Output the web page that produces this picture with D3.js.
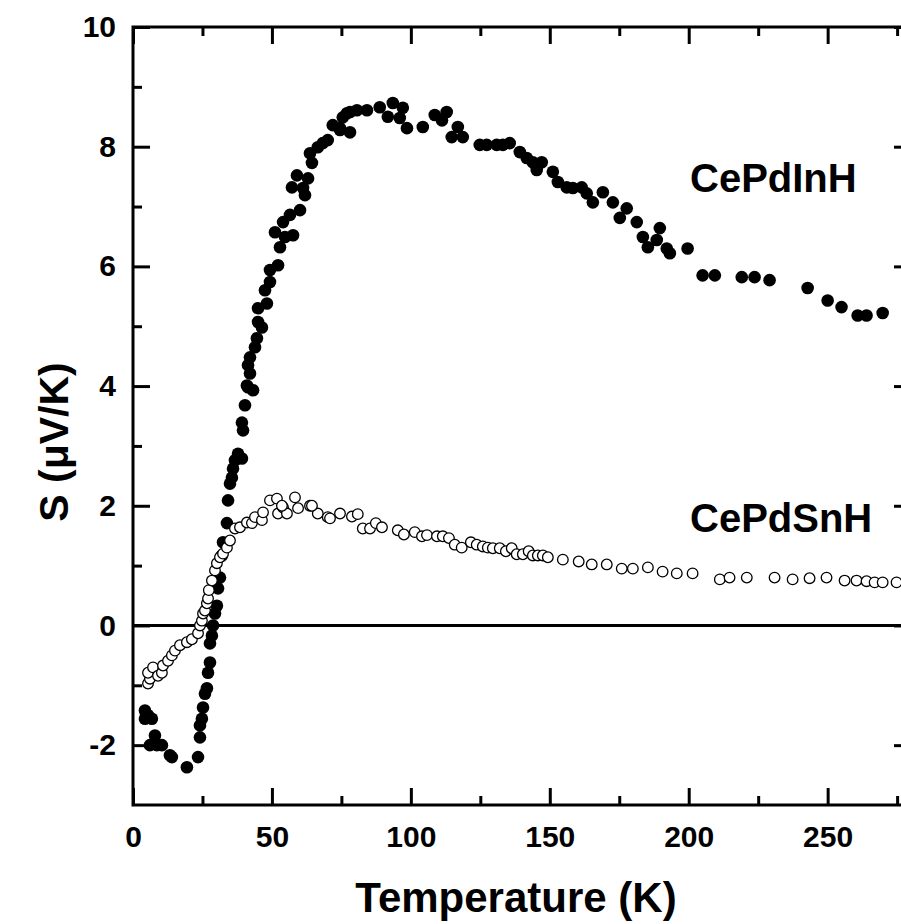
<!DOCTYPE html>
<html>
<head>
<meta charset="utf-8">
<script src="https://cdn.jsdelivr.net/npm/d3@7"></script>
<style>
  body { margin: 0; background: #fff; overflow: hidden; }
  text { font-family: "Liberation Sans", Arial, sans-serif; font-weight: bold; }
</style>
</head>
<body>
<script>
// CePdInH (filled circles): temperature (K) and thermopower (µV/K)
var inT = [4.3, 4.3, 5.4, 6.8, 7.9, 6.1, 8.6, 10.4, 13.3, 14, 19.4, 23.4, 24.1, 24.1, 24.8, 25.2, 25.9, 26.6,
  27.0, 27.7, 27.7, 28.4, 28.8, 29.5, 30.2, 30.6, 31.3, 32.0, 32.4, 33.8, 34.2, 34.9, 35.6, 36.0, 36.7, 37.8,
  39.2, 39.6, 39.2, 40.3, 41.0, 43.2, 41.4, 42.1, 41.4, 42.1, 43.9, 44.6, 45.0, 46.4, 45.0, 48.2, 47.5, 49.3,
  49.3, 52.2, 51.1, 52.9, 54.7, 57.6, 54.0, 56.5, 60.1, 57.2, 59.0, 61.2, 61.9, 63.0, 64.4, 63.7, 66.5, 68.3,
  70.1, 71.9, 74.5, 77.0, 80.6, 84.2, 88.8, 93.5, 97.1, 91.7, 98.6, 104.3, 75.5, 78.1, 96.0, 78.1, 74.5,
  108.6, 112.9, 111.2, 116.9, 114.7, 118.7, 124.8, 127.3, 130.9, 133.1, 135.6, 139.2, 141.7, 143.9, 147.1,
  145.3, 151.1, 152.9, 156.1, 158.3, 161.5, 163.3, 165.5, 169.1, 172.7, 177.7, 175.2, 181.3, 189.6, 183.5,
  185.3, 188.5, 192.1, 193.2, 199.6, 205.0, 209.4, 219.1, 223.7, 229.1, 242.8, 250.0, 255.0, 260.8, 264.0, 269.8];
var inS = [-1.42, -1.56, -1.5, -1.56, -1.84, -2.0, -2.0, -2.0, -2.17, -2.2, -2.37, -2.2, -1.87, -1.67, -1.56, -1.37, -1.14, -1.05,
  -0.79, -0.62, -0.30, -0.17, 0.0, 0.2, 0.33, 0.62, 0.80, 1.17, 1.39, 1.71, 2.09, 2.37, 2.47, 2.62, 2.76, 2.87,
  2.79, 3.26, 3.39, 3.68, 4.01, 3.93, 3.98, 4.21, 4.35, 4.48, 4.65, 4.80, 5.07, 4.98, 5.30, 5.38, 5.60, 5.74,
  5.94, 6.02, 6.57, 6.32, 6.49, 6.52, 6.74, 6.86, 6.94, 7.32, 7.52, 7.31, 7.19, 7.47, 7.73, 7.89, 7.99, 8.06,
  8.11, 8.36, 8.31, 8.56, 8.61, 8.61, 8.66, 8.73, 8.65, 8.50, 8.31, 8.33, 8.49, 8.58, 8.48, 8.24, 8.28,
  8.53, 8.58, 8.44, 8.33, 8.16, 8.16, 8.03, 8.03, 8.03, 8.03, 8.06, 7.91, 7.81, 7.74, 7.74,
  7.61, 7.58, 7.41, 7.32, 7.31, 7.32, 7.22, 7.07, 7.24, 7.07, 6.97, 6.81, 6.74, 6.64, 6.49,
  6.32, 6.44, 6.30, 6.22, 6.30, 5.85, 5.85, 5.82, 5.82, 5.77, 5.64, 5.43, 5.32, 5.18, 5.18, 5.22];

// CePdSnH (open circles)
var snT = [5.4, 6.1, 5.4, 7.2, 9.0, 10.4, 10.8, 12.6, 14.0, 15.1, 16.9, 19.4, 21.2, 23.4, 24.1, 24.8, 25.2, 25.9,
  26.6, 27.0, 27.3, 28.4, 29.5, 30.2, 31.3, 32.4, 33.8, 34.9, 36.7, 38.5, 41.0, 42.8, 43.9, 46.4, 46.8, 49.3,
  51.8, 52.2, 54.0, 55.4, 58.3, 59.4, 53.6, 63.7, 66.5, 70.1, 64.4, 70.9, 74.5, 78.8, 80.9, 82.7, 85.3, 87.4,
  89.6, 95.3, 97.5, 101.4, 104.0, 105.8, 109.4, 111.5, 113.7, 115.8, 118.3, 121.6, 123.7, 125.9, 127.7, 129.5,
  132.0, 134.2, 136.3, 138.1, 140.3, 142.4, 143.9, 145.7, 147.5, 149.3, 154.7, 160.4, 165.1, 170.5, 175.9,
  179.9, 185.3, 190.6, 195.7, 201.4, 211.2, 214.7, 220.9, 230.9, 237.4, 243.5, 249.6, 256.1, 260.4, 264.0,
  266.9, 269.8, 274.8];
var snS = [-0.97, -0.89, -0.79, -0.70, -0.84, -0.79, -0.67, -0.59, -0.50, -0.42, -0.33, -0.28, -0.23, -0.13, 0.0, 0.08, 0.2, 0.25,
  0.37, 0.45, 0.59, 0.75, 0.92, 1.04, 1.14, 1.20, 1.30, 1.42, 1.62, 1.64, 1.72, 1.71, 1.81, 1.76, 1.89, 2.09,
  2.12, 1.87, 1.97, 1.87, 2.14, 1.96, 2.0, 2.0, 1.87, 1.81, 2.0, 1.79, 1.87, 1.82, 1.86, 1.62, 1.62, 1.71,
  1.64, 1.59, 1.52, 1.56, 1.49, 1.51, 1.49, 1.49, 1.46, 1.35, 1.30, 1.39, 1.35, 1.32, 1.30, 1.29,
  1.29, 1.24, 1.29, 1.19, 1.19, 1.24, 1.17, 1.17, 1.17, 1.14, 1.10, 1.07, 1.02, 1.02, 0.95,
  0.95, 0.97, 0.90, 0.87, 0.87, 0.77, 0.80, 0.80, 0.80, 0.77, 0.79, 0.80, 0.75, 0.75, 0.74,
  0.72, 0.72, 0.72];

var xMajor = [0, 50, 100, 150, 200, 250];
var xMinor = [25, 75, 125, 175, 225, 275];
var yMajor = [-2, 0, 2, 4, 6, 8, 10];
var yMinor = [-1, 1, 3, 5, 7, 9];

var W = 901, H = 924;
var mLeft = 133, mTop = 27, mRight = 911, mBottom = 805;

var svg = d3.select("body").append("svg")
    .attr("width", W)
    .attr("height", H);

var x = d3.scaleLinear().domain([0, 280]).range([mLeft, mRight]);
var y = d3.scaleLinear().domain([-3, 10]).range([mBottom, mTop]);

// zero line
svg.append("line")
    .attr("x1", mLeft).attr("x2", mRight)
    .attr("y1", y(0)).attr("y2", y(0))
    .attr("stroke", "#000").attr("stroke-width", 3);

// ticks: all inward, on all four sides
function tickAxis(axis, tr, vals, size, labels) {
  var g = svg.append("g")
      .attr("transform", tr)
      .call(axis.tickValues(vals).tickSize(-size).tickPadding(size + 14)
        .tickFormat(labels ? function(d) { return String(d); } : ""));
  g.select(".domain").remove();
  g.selectAll("line").attr("stroke-width", 3);
  return g;
}

var bx = tickAxis(d3.axisBottom(x), "translate(0," + mBottom + ")", xMajor, 17, true);
tickAxis(d3.axisBottom(x), "translate(0," + mBottom + ")", xMinor, 9, false);
tickAxis(d3.axisTop(x), "translate(0," + mTop + ")", xMajor, 17, false);
tickAxis(d3.axisTop(x), "translate(0," + mTop + ")", xMinor, 9, false);
var ly = tickAxis(d3.axisLeft(y), "translate(" + mLeft + ",0)", yMajor, 17, true);
tickAxis(d3.axisLeft(y), "translate(" + mLeft + ",0)", yMinor, 9, false);
tickAxis(d3.axisRight(y), "translate(" + mRight + ",0)", yMajor, 17, false);
tickAxis(d3.axisRight(y), "translate(" + mRight + ",0)", yMinor, 9, false);

bx.selectAll("text")
    .attr("y", 21)
    .attr("dy", "0.71em")
    .style("font-size", "30px")
    .style("font-family", "'Liberation Sans', Arial, sans-serif")
    .style("font-weight", "bold")
    .attr("fill", "#000");
ly.selectAll("text")
    .attr("x", -17)
    .style("font-size", "30px")
    .style("font-family", "'Liberation Sans', Arial, sans-serif")
    .style("font-weight", "bold")
    .attr("fill", "#000");

// frame
svg.append("rect")
    .attr("x", mLeft).attr("y", mTop)
    .attr("width", mRight - mLeft).attr("height", mBottom - mTop)
    .attr("fill", "none")
    .attr("stroke", "#000")
    .attr("stroke-width", 3);

// data
var inData = inT.map(function(t, i) { return {t: t, s: inS[i]}; });
var snData = snT.map(function(t, i) { return {t: t, s: snS[i]}; });

svg.append("g").selectAll("circle")
    .data(inData)
    .enter().append("circle")
    .attr("cx", function(d) { return x(d.t); })
    .attr("cy", function(d) { return y(d.s); })
    .attr("r", 6.3)
    .attr("fill", "#000");

svg.append("g").selectAll("circle")
    .data(snData)
    .enter().append("circle")
    .attr("cx", function(d) { return x(d.t); })
    .attr("cy", function(d) { return y(d.s); })
    .attr("r", 5.3)
    .attr("fill", "#fff")
    .attr("stroke", "#000")
    .attr("stroke-width", 1.3);

// series labels
svg.append("text")
    .attr("x", 690).attr("y", 192)
    .style("font-size", "40px")
    .text("CePdInH");
svg.append("text")
    .attr("x", 690).attr("y", 532)
    .style("font-size", "40px")
    .text("CePdSnH");

// axis titles
svg.append("text")
    .attr("x", 516).attr("y", 912)
    .attr("text-anchor", "middle")
    .style("font-size", "42px")
    .text("Temperature (K)");

svg.append("text")
    .attr("transform", "translate(68,442) rotate(-90)")
    .attr("text-anchor", "middle")
    .style("font-size", "41px")
    .text("S (μV/K)");
</script>
</body>
</html>
